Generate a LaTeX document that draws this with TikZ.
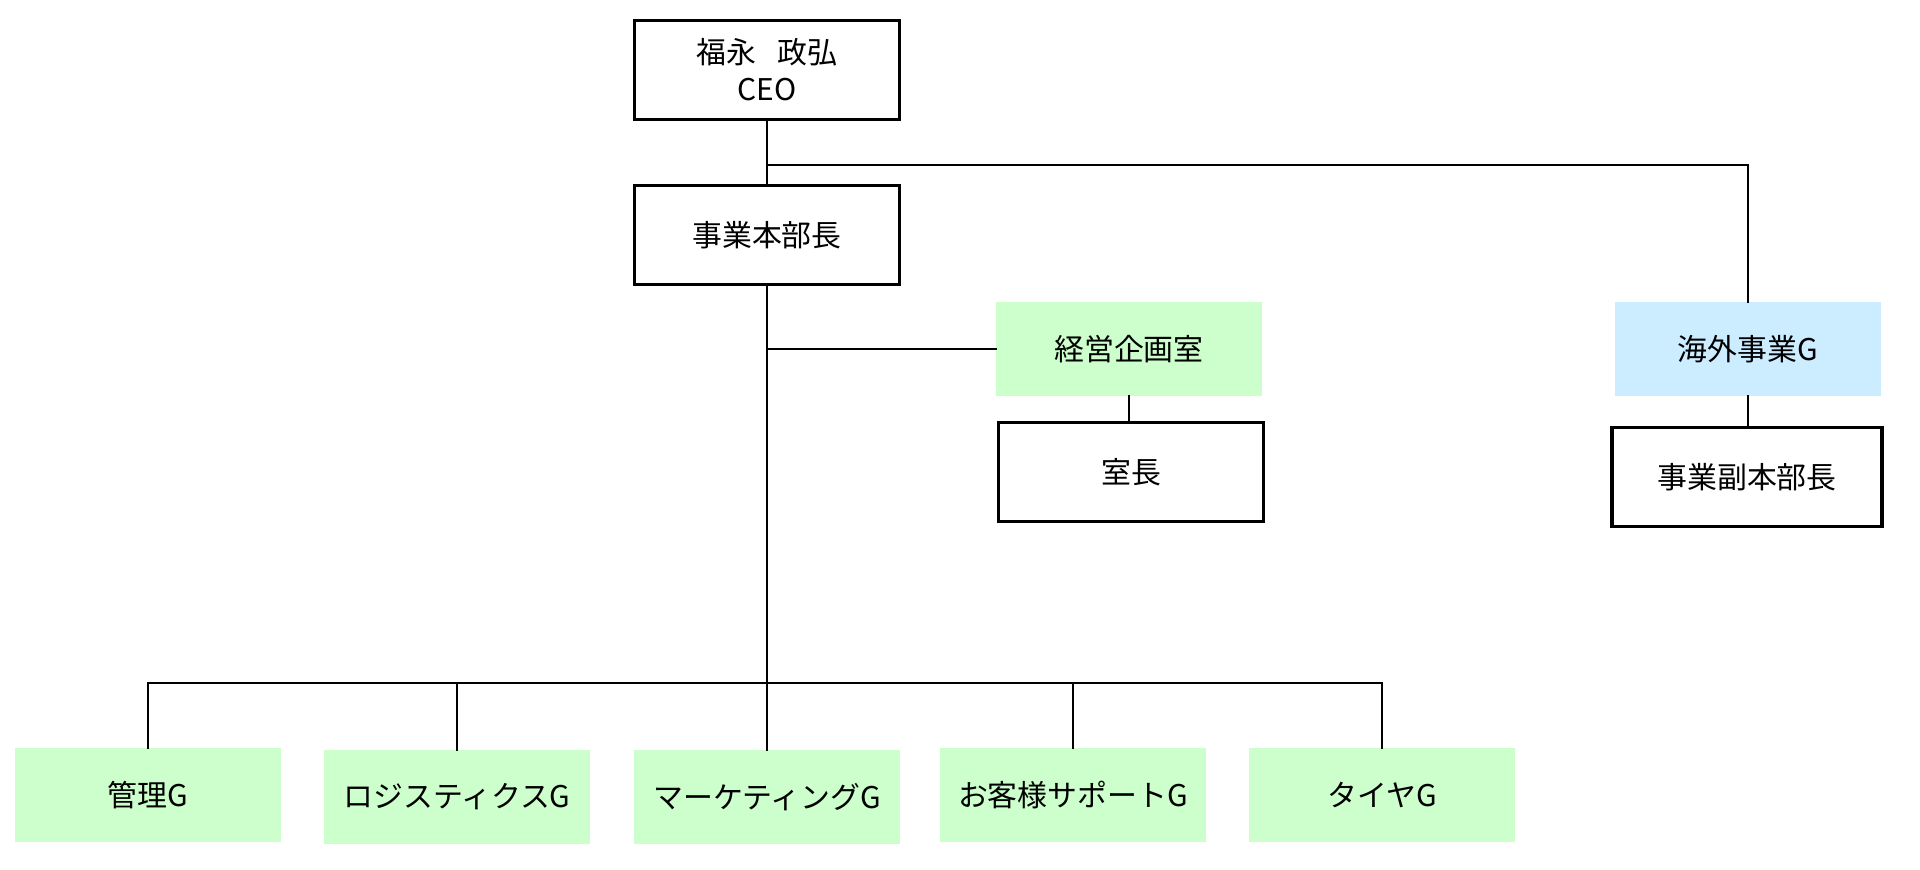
\documentclass[tikz,border=0pt]{standalone}
\usepackage{fontspec}
\setmainfont{Noto Sans CJK JP}
\usetikzlibrary{positioning}
\definecolor{grpgreen}{HTML}{CCFFCC}
\definecolor{grpblue}{HTML}{CCECFF}
\begin{document}
\begin{tikzpicture}[x=0.01cm, y=-0.01cm, line cap=rect, line join=miter, font=\fontsize{8.5}{10.5}\selectfont,
		post/.style={draw=black, line width=1pt, fill=white, minimum width=2.65cm, minimum height=0.99cm, align=center, inner sep=0pt},
		grp/.style={fill=grpgreen, minimum width=2.65cm, minimum height=0.93cm, align=center, inner sep=0pt},
		link/.style={line width=0.75pt}]
	\useasboundingbox (0,0) rectangle (1920,870);
	
	% 1. Các khung chức vụ
	\node[post] (ceo) at (767,70) {福永\hspace{0.7em}政弘\\CEO};
	\node[post] (hq) at (767,235) {事業本部長};
	\node[grp] (plan) at (1129,349) {経営企画室};
	\node[post] (head) at (1131,472) {室長};
	\node[grp, fill=grpblue] (intl) at (1748,349) {海外事業G};
	\node[post, minimum width=2.7cm] (vice) at (1747,477) {事業副本部長};
	
	% 2. Các nhóm ở hàng dưới
	\node[grp] (kanri) at (148,795) {管理G};
	\node[grp] (logi) at (457,797) {ロジスティクスG};
	\node[grp] (mkt) at (767,797) {マーケティングG};
	\node[grp] (cs) at (1073,795) {お客様サポートG};
	\node[grp] (taiya) at (1382,795) {タイヤG};
	
	% 3. Đường nối
	\coordinate (br) at (767,165);
	\coordinate (bus) at (767,683);
	\draw[link] (ceo) -- (hq);
	\draw[link] (br) -| (intl.north);
	\draw[link] (intl.south) -- (intl.south |- vice.north);
	\draw[link] (hq) -- (mkt);
	\draw[link] (hq.south |- plan.west) -- (plan.west);
	\draw[link] (plan.south) -- (plan.south |- head.north);
	\draw[link] (kanri.north) |- (bus) -| (taiya.north);
	\foreach \g in {logi, cs}
		\draw[link] (\g.north) -- (\g.north |- bus);
\end{tikzpicture}
\end{document}
